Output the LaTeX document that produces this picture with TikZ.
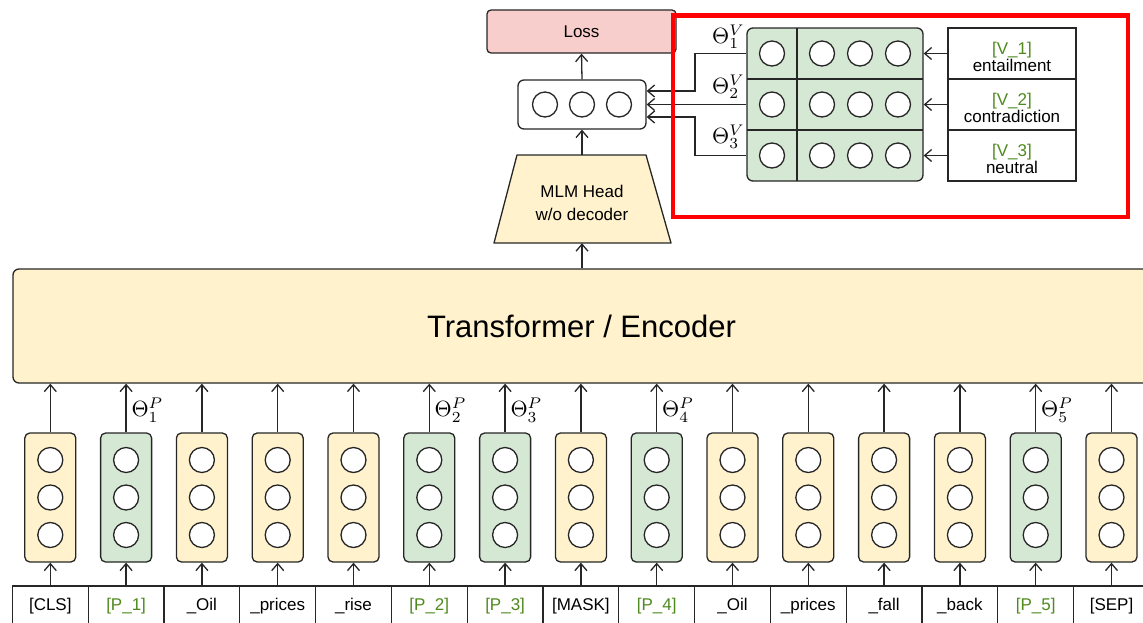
\documentclass[tikz,border=0pt]{standalone}
\usepackage{fontspec}
\setmainfont{Liberation Sans}
\usetikzlibrary{arrows.meta,calc}

\definecolor{yel}{HTML}{FFF2CC}
\definecolor{grn}{HTML}{D5E8D4}
\definecolor{pinkf}{HTML}{F8CECC}
\definecolor{tokgreen}{HTML}{4F8A1E}
\definecolor{edge}{HTML}{262626}

\tikzset{
  base/.style={draw=edge, line width=1.3pt},
  colbox/.style={base, rounded corners=5pt, minimum width=51pt, minimum height=129pt, inner sep=0pt},
  neuron/.style={base, circle, fill=white, minimum size=25pt, inner sep=0pt},
  tok/.style={base, fill=white, minimum width=75.8pt, minimum height=40pt, inner sep=0pt, font=\fontsize{17}{20}\selectfont},
  lbl/.style={base, fill=white, minimum width=128pt, minimum height=51pt, inner sep=0pt},
  lbltext/.style={align=center, font=\fontsize{17}{17}\selectfont, yshift=-3pt},
  theta/.style={inner sep=0pt, scale=2.2},
  arr/.style={draw=edge, line width=1.3pt, -{Straight Barb[length=7pt,width=12pt]}},
}

\begin{document}
\begin{tikzpicture}[x=1pt,y=-1pt]
\useasboundingbox (0,0) rectangle (1143,622);

% encoder
\node[base, fill=yel, rounded corners=6pt, minimum width=1137pt, minimum height=114pt, inner sep=0pt,
      font=\fontsize{31}{36}\selectfont] (enc) at (581.5,326) {Transformer / Encoder};

% token columns
\foreach \lab/\fc/\tc [count=\i from 0] in {
  {[CLS]}/yel/black, {[P\_1]}/grn/tokgreen, {\_Oil}/yel/black, {\_prices}/yel/black,
  {\_rise}/yel/black, {[P\_2]}/grn/tokgreen, {[P\_3]}/grn/tokgreen, {[MASK]}/yel/black,
  {[P\_4]}/grn/tokgreen, {\_Oil}/yel/black, {\_prices}/yel/black, {\_fall}/yel/black,
  {\_back}/yel/black, {[P\_5]}/grn/tokgreen, {[SEP]}/yel/black} {
  \pgfmathsetmacro\cx{50.3+75.8*\i}
  \node[tok, text=\tc] (t\i) at (\cx,606) {\lab};
  \node[colbox, fill=\fc] (col\i) at (\cx,497.5) {};
  \node[neuron] (n\i a) at (\cx,460) {};
  \node[neuron] (n\i b) at (\cx,497.5) {};
  \node[neuron] (n\i c) at (\cx,535) {};
  \draw[arr] (t\i.north) -- (col\i.south);
  \draw[arr] (col\i.north) -- (col\i.north |- enc.south);
}

% prompt parameters
\foreach \c/\k in {1/1,5/2,6/3,8/4,13/5} {
  \node[theta, anchor=west] (tp\k) at ($(col\c.north)+(5,-22)$) {$\Theta_{\k}^{P}$};
}

% MLM head: trapezoid outline around a named node
\fill[yel] (494,243) -- (517,155) -- (646,155) -- (671,243) -- cycle;
\draw[base, line join=round] (494,243) -- (517,155) -- (646,155) -- (671,243) -- cycle;
\node[minimum width=129pt, minimum height=88pt, inner sep=0pt,
      label={[align=center, font=\fontsize{17}{23}\selectfont, yshift=-4pt]center:MLM Head\\w/o decoder}] (mlm) at (582,199) {};
\draw[arr] (enc.north -| mlm) -- (mlm.south);

% output vector
\node[base, fill=white, rounded corners=6pt, minimum width=128pt, minimum height=49pt, inner sep=0pt] (out) at (582,104.5) {};
\node[neuron] (o1) at (545,104.5) {};
\node[neuron] (o2) at (582,104.5) {};
\node[neuron] (o3) at (619,104.5) {};
\draw[arr] (mlm.north) -- (out.south);

% loss
\node[base, fill=pinkf, rounded corners=4pt, minimum width=189pt, minimum height=43pt, inner sep=0pt,
      font=\fontsize{17}{20}\selectfont] (loss) at (581.5,31.5) {Loss};
\draw[arr] (out.north) -- (loss.south);

% verbalizer embeddings
\node[base, fill=grn, rounded corners=6pt, minimum width=176pt, minimum height=153pt, inner sep=0pt] (mat) at (835,104.5) {};
\draw[base] (797,28) -- (797,181);
\draw[base] (747,79) -- (923,79);
\draw[base] (747,130) -- (923,130);
\foreach \r/\y in {1/53.5,2/104.5,3/155.5} {
  \node[neuron] (v\r1) at (772,\y) {};
  \node[neuron] (v\r2) at (822,\y) {};
  \node[neuron] (v\r3) at (860,\y) {};
  \node[neuron] (v\r4) at (898,\y) {};
}

% label words
\node[lbl, label={[lbltext]center:\textcolor{tokgreen}{[V\_1]}\\entailment}] (l1) at (1012,53.5) {};
\node[lbl, label={[lbltext]center:\textcolor{tokgreen}{[V\_2]}\\contradiction}] (l2) at (1012,104.5) {};
\node[lbl, label={[lbltext]center:\textcolor{tokgreen}{[V\_3]}\\neutral}] (l3) at (1012,155.5) {};
\foreach \r in {1,2,3} {
  \draw[arr] (l\r.west) -- (mat.east |- l\r.west);
}

% verbalizer parameters
\node[theta, anchor=east] (tv1) at (745,37) {$\Theta_{1}^{V}$};
\node[theta, anchor=east] (tv2) at (745,87) {$\Theta_{2}^{V}$};
\node[theta, anchor=east] (tv3) at (745,137) {$\Theta_{3}^{V}$};

% links from the embedding rows to the output vector
\coordinate (j1) at (695,91);
\coordinate (j3) at (695,117);
\draw[arr] (mat.west |- v11) -| (j1) -- (out.east |- j1);
\draw[arr] (mat.west |- v21) -- (out.east |- v21);
\draw[arr] (mat.west |- v31) -| (j3) -- (out.east |- j3);

% highlight frame
\draw[red, line width=4.5pt] (673,15.5) rectangle (1128,217);
\end{tikzpicture}
\end{document}
